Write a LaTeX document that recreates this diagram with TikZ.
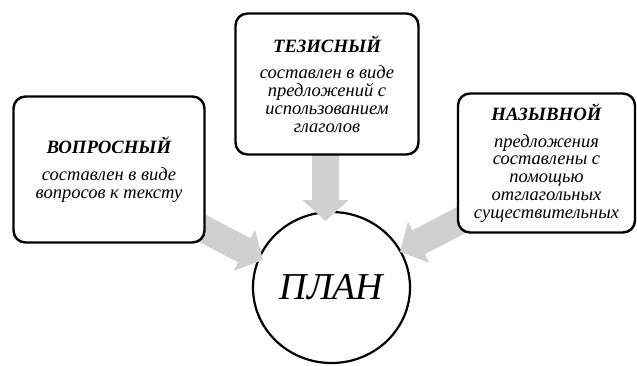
\documentclass[tikz,border=0pt]{standalone}
\usepackage{fontspec}
\setmainfont{Liberation Serif}
\usetikzlibrary{arrows.meta,shapes.geometric}
\definecolor{arrowgray}{RGB}{208,208,208}
\pgfdeclarelayer{bglayer}
\pgfdeclarelayer{midlayer}
\pgfsetlayers{bglayer,midlayer,main}
\tikzset{
  infobox/.style={draw=black, line width=2.4pt, rounded corners=12pt, fill=white,
    align=center, font=\fontsize{18.5}{17.8}\selectfont\itshape, inner sep=1pt},
  planshape/.style={draw=black, line width=2.2pt, ellipse, fill=white,
    minimum width=157pt, minimum height=151pt, inner sep=0pt,
    font=\fontsize{38}{40}\selectfont\itshape},
  bigarrow/.style={draw=arrowgray, line width=27pt,
    -{Triangle[width=45pt,length=21pt]}},
}
\newcommand{\boxtitle}[1]{{\fontsize{18.8}{17.8}\selectfont\bfseries\itshape #1}}
\begin{document}
\begin{tikzpicture}[x=1pt,y=-1pt]
\useasboundingbox (0,0) rectangle (637,365);
% boxes
\node[infobox, minimum width=191pt, minimum height=146pt] (left) at (109,169.5)
  {\boxtitle{ВОПРОСНЫЙ}\\[10pt] составлен в виде\\ вопросов к тексту};
\node[infobox, minimum width=183pt, minimum height=141pt] (top) at (327,84)
  {\boxtitle{ТЕЗИСНЫЙ}\\[9pt] составлен в виде\\ предложений с\\ использованием\\ глаголов};
\node[infobox, minimum width=177pt, minimum height=139pt] (right) at (546.5,163)
  {\boxtitle{НАЗЫВНОЙ}\\[9pt] предложения\\ составлены с\\ помощью\\ отглагольных\\ существительных};
% circle
\begin{pgfonlayer}{bglayer}
\node[planshape] (plan) at (331.5,287.5) {ПЛАН};
\end{pgfonlayer}
% arrows
\coordinate (ls) at (150,201);
\coordinate (lt) at (263,260);
\coordinate (rs) at (490,205);
\coordinate (rt) at (400,252);
\coordinate (ts) at (325.5,140);
\coordinate (tt) at (325.5,221);
\begin{pgfonlayer}{midlayer}
\draw[bigarrow] (ls) -- (lt);
\draw[bigarrow] (rs) -- (rt);
\draw[bigarrow] (ts) -- (tt);
\end{pgfonlayer}
\end{tikzpicture}
\end{document}
